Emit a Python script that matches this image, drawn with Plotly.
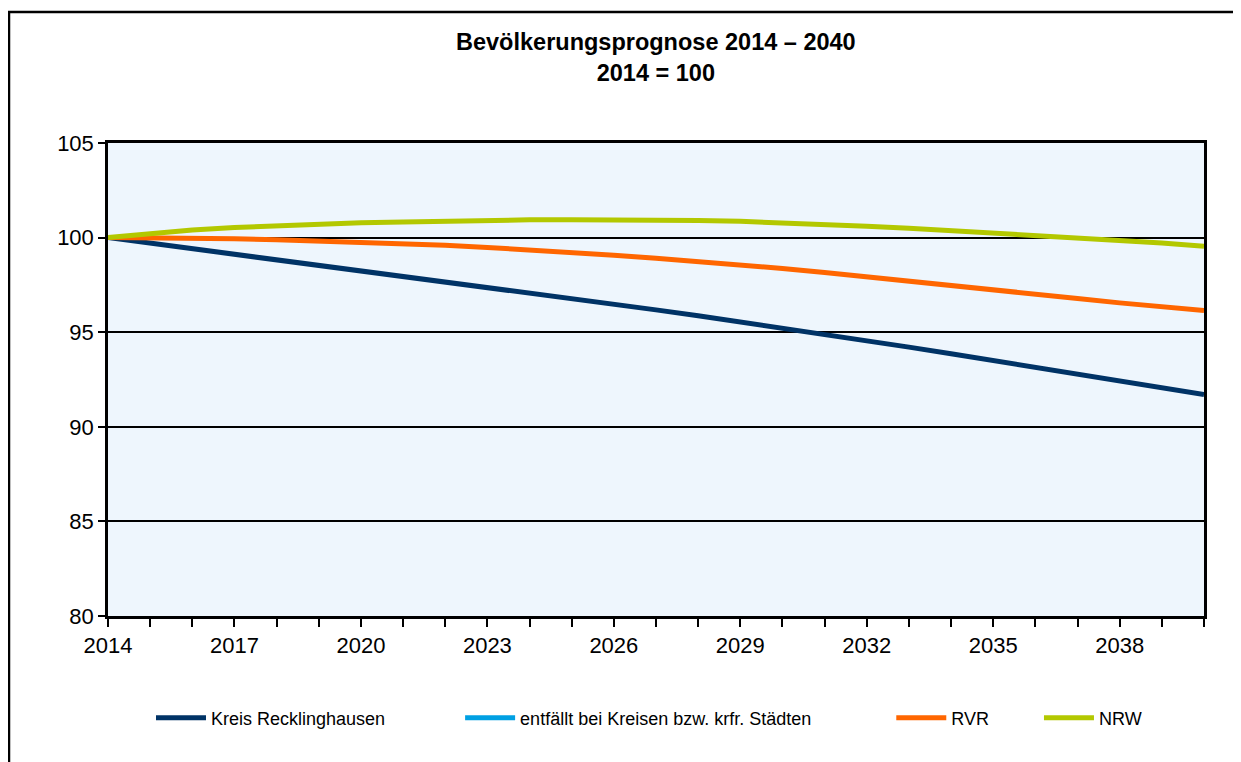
import plotly.graph_objects as go

years = list(range(2014, 2041))
tick_labels = [str(y) if (y - 2014) % 3 == 0 and y < 2040 else "" for y in years]

kreis_recklinghausen = [100.00, 99.71, 99.42, 99.13, 98.84, 98.55, 98.26, 97.97, 97.68,
                        97.39, 97.09, 96.79, 96.49, 96.18, 95.87, 95.55, 95.23, 94.90,
                        94.56, 94.21, 93.86, 93.51, 93.15, 92.79, 92.43, 92.07, 91.70]
entfaellt = [None] * len(years)
rvr = [100.00, 99.99, 99.97, 99.94, 99.89, 99.83, 99.76, 99.68, 99.59, 99.48, 99.36,
       99.22, 99.07, 98.91, 98.74, 98.56, 98.37, 98.16, 97.94, 97.71, 97.48, 97.25,
       97.01, 96.78, 96.55, 96.33, 96.14]
nrw = [100.00, 100.22, 100.40, 100.53, 100.63, 100.71, 100.78, 100.83, 100.88, 100.92,
       100.94, 100.95, 100.95, 100.93, 100.90, 100.86, 100.79, 100.70, 100.60, 100.49,
       100.37, 100.25, 100.13, 100.01, 99.88, 99.72, 99.54]

NB = "\u00a0"
series = [
    ("Kreis Recklinghausen" + NB * 14, kreis_recklinghausen, "#003366"),
    ("entfällt bei Kreisen bzw. krfr. Städten" + NB * 15, entfaellt, "#00A0E3"),
    ("RVR" + NB * 9, rvr, "#FF6600"),
    ("NRW", nrw, "#B3C800"),
]

fig = go.Figure()
for name, vals, color in series:
    fig.add_trace(go.Scatter(x=years, y=vals, name=name, mode="lines",
                             line=dict(color=color, width=5), connectgaps=False))

font = "Liberation Sans, Arial, sans-serif"
# page has an 8px body margin; figure coordinates are page coordinates minus 8
OFF = 8
W, H = 1241 - OFF, 762 - OFF
L, R, T, B = 108 - OFF, 37, 143 - OFF, 146
pw, ph = W - L - R, H - T - B


def px_x(p):
    return (p - OFF - L) / pw


def px_y(p):
    return (H - B - (p - OFF)) / ph


fig.update_layout(
    width=W, height=H,
    margin=dict(l=L, r=R, t=T, b=B),
    paper_bgcolor="white",
    plot_bgcolor="#EEF6FD",
    showlegend=True,
    legend=dict(orientation="h", x=px_x(151), xanchor="left", y=px_y(718), yanchor="middle",
                font=dict(family=font, size=18, color="black"),
                traceorder="normal", itemwidth=50),
    font=dict(family=font, color="black"),
    annotations=[dict(text="<b>Bevölkerungsprognose 2014 – 2040</b><br><b>2014 = 100</b>",
                      xref="paper", yref="paper", x=px_x(656), y=px_y(58), xanchor="center",
                      yanchor="middle", showarrow=False,
                      font=dict(family=font, size=23.5, color="black"))],
    shapes=[dict(type="rect", xref="paper", yref="paper",
                 x0=px_x(9), x1=px_x(1300), y0=px_y(800), y1=px_y(12),
                 line=dict(color="black", width=2.5), layer="below")],
)
fig.update_xaxes(range=[2014, 2040], tickvals=years, ticktext=tick_labels,
                 ticks="outside", ticklen=8, tickwidth=2, tickcolor="black",
                 showgrid=False, zeroline=False, showline=True, linecolor="black",
                 linewidth=2.5, mirror=True,
                 tickfont=dict(family=font, size=22, color="black"))
fig.update_yaxes(range=[80, 105], dtick=5, ticks="outside", ticklen=7, tickwidth=2,
                 tickcolor="black", showgrid=True, gridcolor="black", gridwidth=2,
                 zeroline=False, showline=True, linecolor="black", linewidth=2.5,
                 mirror=True, tickfont=dict(family=font, size=22, color="black"))

fig.write_html("out.html")
